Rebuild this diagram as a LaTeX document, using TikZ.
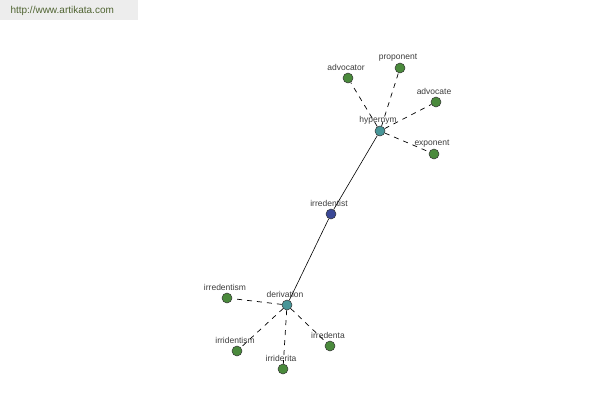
\documentclass[tikz,border=0pt]{standalone}
\usepackage{fontspec}
\setmainfont{Liberation Sans}
\usepackage{xcolor}
\definecolor{hubteal}{RGB}{72, 150, 152}
\definecolor{rootblue}{RGB}{58, 72, 150}
\definecolor{leafgreen}{RGB}{74, 138, 60}
\definecolor{urlgreen}{RGB}{80, 100, 50}
\definecolor{lblgray}{RGB}{60, 60, 60}

\tikzset{
    word/.style={circle, draw=black!80, line width=0.5pt, minimum size=10pt, inner sep=0pt},
    hub/.style={word, fill=hubteal},
    root/.style={word, fill=rootblue},
    leaf/.style={word, fill=leafgreen},
    lbl/.style={text=lblgray, font=\fontsize{8.5}{9}\selectfont, inner sep=0pt, yshift=1.5pt, xshift=-2pt},
    rel/.style={line width=0.7pt, dash pattern=on 5pt off 5pt},
}

\begin{document}
\begin{tikzpicture}[x=1pt, y=-1pt]
    \useasboundingbox (0,0) rectangle (600,400);
    % Watermark
    \fill[black!7] (0,0) rectangle (138,20);
    \node[urlgreen, font=\fontsize{10}{11}\selectfont, anchor=west] (url) at (7,11) {http://www.artikata.com};

    % Main word and hubs
    \node[root, label={[lbl]above:irredentist}] (irredentist) at (331,214) {};
    \node[hub, label={[lbl]above:hypernym}] (hypernym) at (380,131) {};
    \node[hub, label={[lbl]above:derivation}] (derivation) at (287,305) {};

    % Hypernyms
    \node[leaf, label={[lbl]above:advocator}] (advocator) at (348,78) {};
    \node[leaf, label={[lbl]above:proponent}] (proponent) at (400,68) {};
    \node[leaf, label={[lbl]above:advocate}] (advocate) at (436,102) {};
    \node[leaf, label={[lbl]above:exponent}] (exponent) at (434,154) {};

    % Derivations
    \node[leaf, label={[lbl]above:irredentism}] (irredentism) at (227,298) {};
    \node[leaf, label={[lbl]above:irridentism}] (irridentism) at (237,351) {};
    \node[leaf, label={[lbl]above:irriderita}] (irriderita) at (283,369) {};
    \node[leaf, label={[lbl]above:irredenta}] (irredenta) at (330,346) {};

    \draw[line width=0.6pt] (irredentist) -- (hypernym);
    \draw[line width=0.6pt] (irredentist) -- (derivation);
    \foreach \w in {advocator, proponent, advocate, exponent}
        \draw[rel] (hypernym) -- (\w);
    \foreach \w in {irredentism, irridentism, irriderita, irredenta}
        \draw[rel] (derivation) -- (\w);
\end{tikzpicture}
\end{document}
